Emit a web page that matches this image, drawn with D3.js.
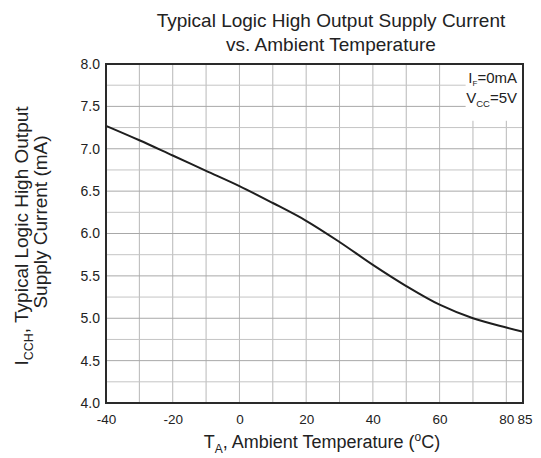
<!DOCTYPE html>
<html>
<head>
<meta charset="utf-8">
<script src="https://cdn.jsdelivr.net/npm/d3@7"></script>
<style>
  body { margin: 0; background: #fff; }
  svg text { font-family: "Liberation Sans", Arial, sans-serif; fill: #222; }
</style>
</head>
<body>
<div id="container"></div>
<script>
const width = 541; // Chart's dimensions
const height = 458;
const marginLeft = 106;
const marginRight = 18;
const marginTop = 64;
const marginBottom = 55;

// values
const temps = [-40, -30, -20, -10, 0, 10, 20, 30, 40, 50, 60, 70, 80, 85];
const current = [7.27, 7.10, 6.92, 6.74, 6.56, 6.36, 6.15, 5.90, 5.63, 5.38, 5.16, 5.00, 4.89, 4.84];
const xTicks = [-40, -20, 0, 20, 40, 60, 80, 85];
const xGrid = [-30, -20, -10, 0, 10, 20, 30, 40, 50, 60, 70, 80];
const yTicks = [4.0, 4.5, 5.0, 5.5, 6.0, 6.5, 7.0, 7.5, 8.0];
const yGrid = [4.25, 4.5, 4.75, 5.0, 5.25, 5.5, 5.75, 6.0, 6.25, 6.5, 6.75, 7.0, 7.25, 7.5, 7.75];

const data = temps.map((t, i) => ({ t: t, v: current[i] }));

const x = d3.scaleLinear()
  .domain([-40, 85])
  .range([marginLeft, width - marginRight]);

const y = d3.scaleLinear()
  .domain([4, 8])
  .range([height - marginBottom, marginTop]);

const svg = d3.select("div#container").append("svg")
  .attr("width", width)
  .attr("height", height)
  .attr("viewBox", [0, 0, width, height]);

// grid
svg.append("g")
  .selectAll("line")
  .data(xGrid)
  .join("line")
  .attr("x1", d => x(d)).attr("x2", d => x(d))
  .attr("y1", y(4)).attr("y2", y(8))
  .attr("stroke", "#b8b8b8")
  .attr("stroke-width", 1);

svg.append("g")
  .selectAll("line")
  .data(yGrid)
  .join("line")
  .attr("x1", x(-40)).attr("x2", x(85))
  .attr("y1", d => y(d)).attr("y2", d => y(d))
  .attr("stroke", d => d % 0.5 === 0 ? "#a8a8a8" : "#c4c4c4")
  .attr("stroke-width", 1);

// white patch behind the conditions note
svg.append("rect")
  .attr("x", x(67.8))
  .attr("y", y(8))
  .attr("width", x(85) - x(67.8))
  .attr("height", y(7.33) - y(8))
  .attr("fill", "#fff");

// curve
const line = d3.line()
  .x(d => x(d.t))
  .y(d => y(d.v))
  .curve(d3.curveCatmullRom.alpha(0.5));

svg.append("path")
  .datum(data)
  .attr("fill", "none")
  .attr("stroke", "#1e1e1e")
  .attr("stroke-width", 2)
  .attr("d", line);

// frame
svg.append("rect")
  .attr("x", x(-40))
  .attr("y", y(8))
  .attr("width", x(85) - x(-40))
  .attr("height", y(4) - y(8))
  .attr("fill", "none")
  .attr("stroke", "#2a2a2a")
  .attr("stroke-width", 2);

// axes
svg.append("g")
  .attr("transform", `translate(0,${y(4)})`)
  .call(d3.axisBottom(x).tickValues(xTicks).tickSize(0).tickPadding(11).tickFormat(d => String(d)))
  .call(g => g.select(".domain").remove())
  .call(g => g.selectAll("text").attr("font-size", 13.5).attr("font-family", null).attr("fill", "#222"))
  .call(g => g.selectAll(".tick").filter(d => d === 85).select("text").attr("dx", 1.5));

svg.append("g")
  .attr("transform", `translate(${x(-40)},0)`)
  .call(d3.axisLeft(y).tickValues(yTicks).tickSize(0).tickPadding(6).tickFormat(d3.format(".1f")))
  .call(g => g.select(".domain").remove())
  .call(g => g.selectAll("text").attr("font-size", 14).attr("font-family", null).attr("fill", "#222"));

// title
const title = svg.append("text")
  .attr("text-anchor", "middle")
  .attr("font-size", 19);
title.append("tspan").attr("x", 331).attr("y", 27).text("Typical Logic High Output Supply Current");
title.append("tspan").attr("x", 331).attr("y", 51).text("vs. Ambient Temperature");

// x label
const xl = svg.append("text")
  .attr("x", 322)
  .attr("y", 448)
  .attr("text-anchor", "middle")
  .attr("font-size", 18);
xl.append("tspan").text("T");
xl.append("tspan").attr("font-size", 12).attr("dy", 5).text("A");
xl.append("tspan").attr("dy", -5).text(", Ambient Temperature (");
xl.append("tspan").attr("font-size", 12).attr("dy", -7).text("o");
xl.append("tspan").attr("dy", 7).text("C)");

// y label
const yl = svg.append("g").attr("transform", "translate(28,236) rotate(-90)");
const y1 = yl.append("text").attr("text-anchor", "middle").attr("font-size", 19);
y1.append("tspan").text("I");
y1.append("tspan").attr("font-size", 12.5).attr("dy", 5).text("CCH");
y1.append("tspan").attr("dy", -5).text(", Typical Logic High Output");
yl.append("text")
  .attr("x", 14)
  .attr("y", 19)
  .attr("text-anchor", "middle")
  .attr("font-size", 19)
  .text("Supply Current (mA)");

// conditions note
const n1 = svg.append("text").attr("x", 517).attr("y", 83).attr("text-anchor", "end").attr("font-size", 15);
n1.append("tspan").text("I");
n1.append("tspan").attr("font-size", 8).attr("dy", 2.5).text("F");
n1.append("tspan").attr("dy", -2.5).text("=0mA");
const n2 = svg.append("text").attr("x", 517).attr("y", 103).attr("text-anchor", "end").attr("font-size", 15);
n2.append("tspan").text("V");
n2.append("tspan").attr("font-size", 9.5).attr("dy", 4).text("CC");
n2.append("tspan").attr("dy", -4).text("=5V");
</script>
</body>
</html>
